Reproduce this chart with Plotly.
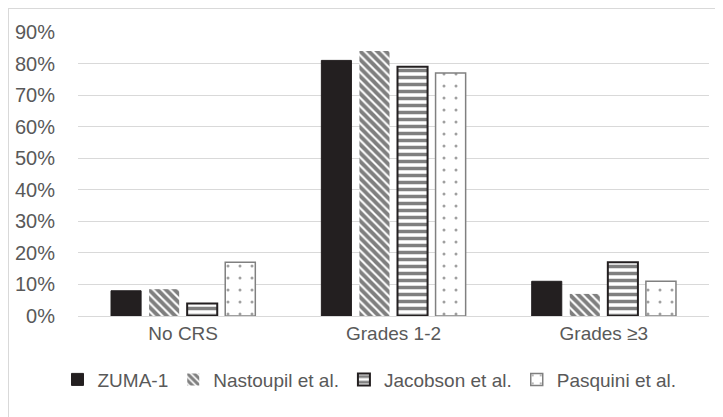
import plotly.graph_objects as go

categories = ["No CRS", "Grades 1-2", "Grades ≥3"]
series_names = ["ZUMA-1", "Nastoupil et al.", "Jacobson et al.", "Pasquini et al."]
zuma = [0.08, 0.81, 0.11]
nastoupil = [0.085, 0.84, 0.07]
jacobson = [0.04, 0.79, 0.17]
pasquini = [0.17, 0.77, 0.11]
y_ticks = [0, 0.1, 0.2, 0.3, 0.4, 0.5, 0.6, 0.7, 0.8, 0.9]

styles = [
    dict(color="#231f20", line=dict(color="#231f20", width=1)),
    dict(color="white", line=dict(color="white", width=0),
         pattern=dict(shape="\\", fgcolor="#000000", bgcolor="white", size=6, solidity=0.65)),
    dict(color="white", line=dict(color="#231f20", width=2),
         pattern=dict(shape="-", fgcolor="#000000", bgcolor="white", size=7, solidity=0.5)),
    dict(color="white", line=dict(color="#808080", width=1.5),
         pattern=dict(shape=".", fgcolor="#404040", bgcolor="white", size=12, solidity=0.05)),
]

fig = go.Figure()
for name, vals, st in zip(series_names, [zuma, nastoupil, jacobson, pasquini], styles):
    fig.add_trace(go.Bar(name=name, x=categories, y=vals, marker=st))

L, R, T, B = 70, 22, 24, 109
PW, PH = 723 - L - R, 417 - T - B

fig.update_layout(
    width=723, height=417,
    paper_bgcolor="white", plot_bgcolor="white",
    margin=dict(l=L, r=R, t=T, b=B, autoexpand=False),
    barmode="group", bargap=0.276, bargroupgap=0.21,
    font=dict(family="Liberation Sans", size=20, color="#595959"),
    legend=dict(orientation="h", xref="container", yref="container",
                x=0.5, xanchor="center", y=0.109, yanchor="middle",
                font=dict(size=19, color="#595959"), traceorder="normal",
                itemwidth=30, tracegroupgap=0),
    showlegend=True,
)
fig.update_yaxes(range=[0, 0.9], tickvals=y_ticks, tickformat=".0%",
                 showgrid=True, gridcolor="#d9d9d9", gridwidth=1,
                 zeroline=False, showline=False, ticks="", ticklabelstandoff=22,
                 tickfont=dict(size=20, color="#595959"))
fig.update_xaxes(showline=True, linecolor="#d9d9d9", linewidth=1, ticks="",
                 tickfont=dict(size=19, color="#595959"))
fig.add_shape(type="rect", xref="paper", yref="paper", x0=-L/PW, x1=1+R/PW,
              y0=-B/PH, y1=1+T/PH, line=dict(color="#d9d9d9", width=2))

fig.write_html("out.html")
